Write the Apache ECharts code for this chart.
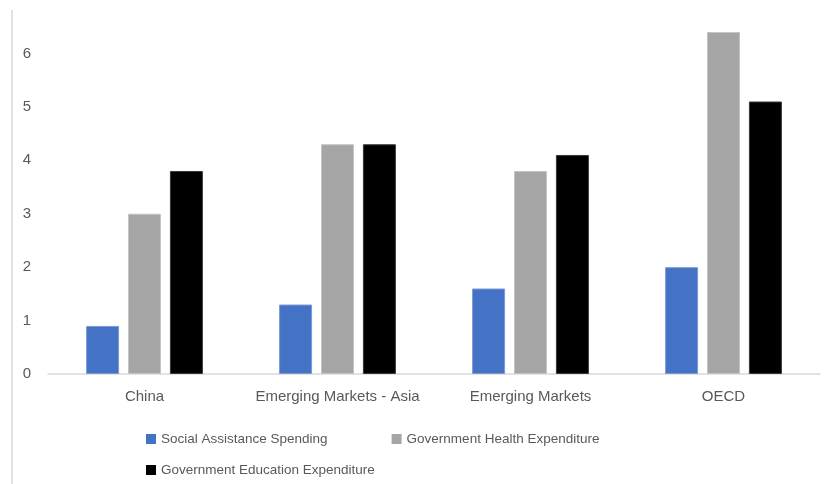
<!DOCTYPE html>
<html>
<head>
<meta charset="utf-8">
<script src="https://cdn.jsdelivr.net/npm/echarts@6/dist/echarts.min.js"></script>
<style>html,body{margin:0;padding:0;background:#fff}#c{width:825px;height:484px}</style>
</head>
<body>
<div id="c"></div>
<script>
var categories = ['China', 'Emerging Markets - Asia', 'Emerging Markets', 'OECD'];
var seriesNames = ['Social Assistance Spending', 'Government Health Expenditure', 'Government Education Expenditure'];
var socialAssistance = [0.9, 1.3, 1.6, 2.0];
var healthExpenditure = [3.0, 4.3, 3.8, 6.4];
var educationExpenditure = [3.8, 4.3, 4.1, 5.1];
var yTicks = [0, 1, 2, 3, 4, 5, 6];

var colors = ['#4472c4', '#a5a5a5', '#000000'];
var font = 'Liberation Sans';
var chart = echarts.init(document.getElementById('c'), null, {renderer: 'canvas'});
function bar(name, data, color, borderColor) {
  return {
    name: name, type: 'bar', data: data, barWidth: 33, barGap: '27%',
    itemStyle: {color: color, borderColor: borderColor, borderWidth: 1}
  };
}
var legendText = {fontFamily: font, fontSize: 13.5, color: '#595959'};
chart.setOption({
  animation: false,
  backgroundColor: '#fff',
  graphic: [{type: 'line', shape: {x1: 12, y1: 10, x2: 12, y2: 484}, style: {stroke: '#d9d9d9', lineWidth: 1.5}}],
  grid: {left: 48, right: 5, top: -10, bottom: 110, containLabel: false},
  legend: [
    {data: [seriesNames[0], seriesNames[1]], left: 141, top: 427, itemWidth: 10, itemHeight: 10, itemGap: 64,
     icon: 'rect', itemStyle: {borderWidth: 0}, textStyle: legendText},
    {data: [seriesNames[2]], left: 141, top: 458, itemWidth: 10, itemHeight: 10,
     icon: 'rect', itemStyle: {borderWidth: 0}, textStyle: legendText}
  ],
  xAxis: {
    type: 'category', data: categories,
    axisLine: {lineStyle: {color: '#d9d9d9', width: 1.5}},
    axisTick: {show: false},
    axisLabel: {interval: 0, fontFamily: font, fontSize: 15, color: '#595959', margin: 15}
  },
  yAxis: {
    type: 'value', min: 0, max: 7, interval: 1,
    splitLine: {show: false}, axisLine: {show: false}, axisTick: {show: false},
    axisLabel: {fontFamily: font, fontSize: 15, color: '#595959', margin: 17,
      formatter: function (v) { return yTicks.indexOf(v) >= 0 ? String(v) : ''; }}
  },
  series: [
    bar(seriesNames[0], socialAssistance, colors[0], '#7d9ad8'),
    bar(seriesNames[1], healthExpenditure, colors[1], '#c4c4c4'),
    bar(seriesNames[2], educationExpenditure, colors[2], '#3a3a3a')
  ]
});
</script>
</body>
</html>
